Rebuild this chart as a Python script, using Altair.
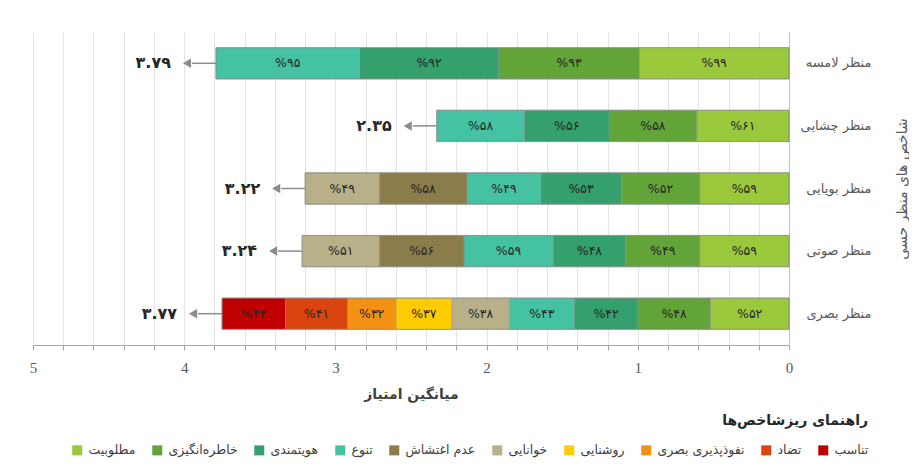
import altair as alt
import pandas as pd

# ---- data ----
rows = ["منظر لامسه", "منظر چشایی", "منظر بویایی", "منظر صوتی", "منظر بصری"]
indicators = ["مطلوبیت", "خاطره‌انگیزی", "هویتمندی", "تنوع", "عدم اغتشاش",
              "خوانایی", "روشنایی", "نفوذپذیری بصری", "تضاد", "تناسب"]
colors = ["#9AC93B", "#62A437", "#33A06E", "#45C2A2", "#8B7D4B",
          "#B8B088", "#FFCC00", "#F39212", "#D9440F", "#C00000"]

touch_ind = ["مطلوبیت", "خاطره‌انگیزی", "هویتمندی", "تنوع"]
touch_pct = [99, 93, 92, 95]
taste_ind = ["مطلوبیت", "خاطره‌انگیزی", "هویتمندی", "تنوع"]
taste_pct = [61, 58, 56, 58]
smell_ind = ["مطلوبیت", "خاطره‌انگیزی", "هویتمندی", "تنوع", "عدم اغتشاش", "خوانایی"]
smell_pct = [59, 52, 53, 49, 58, 49]
sound_ind = ["مطلوبیت", "خاطره‌انگیزی", "هویتمندی", "تنوع", "عدم اغتشاش", "خوانایی"]
sound_pct = [59, 49, 48, 59, 56, 51]
visual_ind = ["مطلوبیت", "خاطره‌انگیزی", "هویتمندی", "تنوع", "خوانایی",
              "روشنایی", "نفوذپذیری بصری", "تضاد", "تناسب"]
visual_pct = [52, 48, 42, 43, 38, 37, 32, 41, 42]

totals = [3.79, 2.35, 3.22, 3.24, 3.77]

x_ticks = [i / 5 for i in range(26)]

# ---- tables ----
FA = str.maketrans("0123456789", "۰۱۲۳۴۵۶۷۸۹")
groups = [(touch_ind, touch_pct), (taste_ind, taste_pct), (smell_ind, smell_pct),
          (sound_ind, sound_pct), (visual_ind, visual_pct)]
seg_rows = []
tot_rows = []
for r, (inds, pcts), t in zip(rows, groups, totals):
    for ind, p in zip(inds, pcts):
        seg_rows.append({"row": r, "indicator": ind, "value": p / 100,
                         "order": indicators.index(ind),
                         "label": "%" + str(p).translate(FA)})
    tot_rows.append({"row": r, "end": sum(pcts) / 100,
                     "tlabel": f"{t:.2f}".translate(FA)})
seg = pd.DataFrame(seg_rows)
tot = pd.DataFrame(tot_rows)

FONT = "DejaVu Sans"

xscale = alt.Scale(domain=[0, 5], reverse=True, nice=False, zero=True)
xaxis = alt.Axis(values=x_ticks, title="میانگین امتیاز",
                 labelExpr="datum.value % 1 == 0 ? format(datum.value, 'd') : ''",
                 labelOverlap=False, labelFlush=False,
                 labelFont="Liberation Serif", labelFontSize=15,
                 labelColor="#595959", labelPadding=10,
                 tickSize=5, tickColor="#A6A6A6",
                 domainColor="#A6A6A6",
                 grid=True, gridColor="#E3E3E3",
                 titleFont=FONT, titleFontSize=14, titleFontWeight="bold",
                 titleColor="#404040", titlePadding=12)
yaxis = alt.Axis(orient="right", title="شاخص های منظر حسی",
                 titleAngle=270, titleBaseline="top",
                 titleFont=FONT, titleFontSize=14,
                 titleFontWeight="normal", titleColor="#595959",
                 titlePadding=24,
                 labelFont=FONT, labelFontSize=13, labelColor="#595959",
                 labelAlign="right", labelPadding=82,
                 ticks=False, domain=True, domainColor="#BFBFBF",
                 grid=False)
yscale = alt.Scale(paddingInner=0.5, paddingOuter=0.25)


def X(field):
    return alt.X(field, scale=xscale, axis=xaxis)


def Y():
    return alt.Y("row:N", sort=rows, scale=yscale, axis=yaxis)


base = alt.Chart(seg).transform_window(
    cum="sum(value)", sort=[alt.SortField("order")], groupby=["row"],
    frame=[None, 0]
).transform_calculate(
    start="datum.cum - datum.value", mid="datum.cum - datum.value / 2"
)

bars = base.mark_bar(stroke="#8C8C8C", strokeWidth=0.4).encode(
    x=X("start:Q"),
    x2="cum:Q",
    y=Y(),
    color=alt.Color("indicator:N",
                    scale=alt.Scale(domain=indicators, range=colors),
                    legend=alt.Legend(title="راهنمای ریزشاخص‌ها", orient="none",
                                      legendX=38, legendY=382,
                                      direction="horizontal", columns=10,
                                      titleAnchor="end", titleFont=FONT,
                                      titleFontSize=14, titleFontWeight="bold",
                                      titleColor="#262626", titlePadding=16,
                                      labelFont=FONT, labelFontSize=12.5,
                                      labelColor="#404040", labelOffset=5,
                                      symbolType="square", symbolSize=100,
                                      symbolStrokeWidth=0, columnPadding=15)),
    order=alt.Order("order:Q"),
)

labels = base.mark_text(font=FONT, fontSize=12.5, color="#262626",
                        baseline="middle").encode(
    x=X("mid:Q"), y=Y(), text="label:N")

tbase = alt.Chart(tot).transform_calculate(zero="0")
outline = tbase.mark_bar(fillOpacity=0, stroke="#8C8C8C", strokeWidth=0.8).encode(
    x=X("zero:Q"), x2="end:Q", y=Y())
arrow_line = tbase.mark_rule(color="#8C8C8C", strokeWidth=1.5, x2Offset=-24).encode(
    x=X("end:Q"), x2="end:Q", y=Y())
arrow_head = tbase.mark_point(shape="triangle-left", filled=True, color="#8C8C8C",
                              opacity=1, size=90, xOffset=-29).encode(
    x=X("end:Q"), y=Y())
tot_text = tbase.mark_text(font=FONT, fontSize=16, fontWeight="bold",
                           color="#262626", align="right", baseline="middle",
                           dx=-45).encode(
    x=X("end:Q"), y=Y(), text="tlabel:N")

chart = alt.layer(bars, outline, labels, arrow_line, arrow_head, tot_text).properties(
    width=756, height=313,
    padding={"left": 21, "top": 24, "right": 0, "bottom": 5},
).configure_view(stroke=None)

chart.save("out.html", embed_options={"renderer": "svg", "actions": False})
